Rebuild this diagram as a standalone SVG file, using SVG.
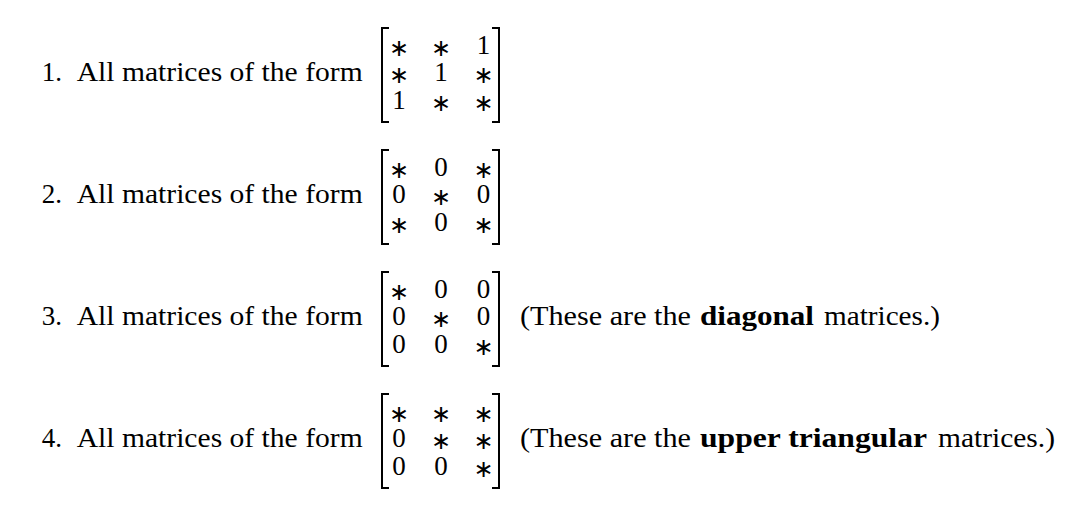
<svg xmlns="http://www.w3.org/2000/svg" width="1092" height="510" viewBox="0 0 1092 510">
<style>
.t{font-family:"Liberation Serif","Times New Roman",serif;font-size:27px;fill:#000}
.b{font-weight:bold}
.d{font-family:"Liberation Serif","Times New Roman",serif;font-size:27px;fill:#000;text-anchor:middle}
.s{font-family:"DejaVu Sans",sans-serif;font-size:24px;fill:#000;text-anchor:middle}
.br{fill:none;stroke:#000;stroke-width:2}
</style>
<rect width="1092" height="510" fill="#fff"/>
<g id="item1">
<text class="t" x="41.7" y="81">1.</text>
<text class="t" x="76.7" y="81" textLength="286" lengthAdjust="spacingAndGlyphs">All matrices of the form</text>
<g id="matrix1">
<path class="br" d="M389,28H382V122H389M492,28H499V122H492"/>
<text class="s" x="399" y="55.5">∗</text><text class="s" x="441" y="55.5">∗</text><text class="d" x="483.5" y="53.5">1</text>
<text class="s" x="399" y="83">∗</text><text class="d" x="441" y="81">1</text><text class="s" x="483.5" y="83">∗</text>
<text class="d" x="399" y="108.5">1</text><text class="s" x="441" y="110.5">∗</text><text class="s" x="483.5" y="110.5">∗</text>
</g>
</g>
<g id="item2">
<text class="t" x="41.7" y="203">2.</text>
<text class="t" x="76.7" y="203" textLength="286" lengthAdjust="spacingAndGlyphs">All matrices of the form</text>
<g id="matrix2">
<path class="br" d="M389,150H382V244H389M492,150H499V244H492"/>
<text class="s" x="399" y="177.5">∗</text><text class="d" x="441" y="175.5">0</text><text class="s" x="483.5" y="177.5">∗</text>
<text class="d" x="399" y="203">0</text><text class="s" x="441" y="205">∗</text><text class="d" x="483.5" y="203">0</text>
<text class="s" x="399" y="232.5">∗</text><text class="d" x="441" y="230.5">0</text><text class="s" x="483.5" y="232.5">∗</text>
</g>
</g>
<g id="item3">
<text class="t" x="41.7" y="325">3.</text>
<text class="t" x="76.7" y="325" textLength="286" lengthAdjust="spacingAndGlyphs">All matrices of the form</text>
<g id="matrix3">
<path class="br" d="M389,272H382V366H389M492,272H499V366H492"/>
<text class="s" x="399" y="299.5">∗</text><text class="d" x="441" y="297.5">0</text><text class="d" x="483.5" y="297.5">0</text>
<text class="d" x="399" y="325">0</text><text class="s" x="441" y="327">∗</text><text class="d" x="483.5" y="325">0</text>
<text class="d" x="399" y="352.5">0</text><text class="d" x="441" y="352.5">0</text><text class="s" x="483.5" y="354.5">∗</text>
</g>
<text class="t" x="520" y="325" textLength="171" lengthAdjust="spacingAndGlyphs">(These are the</text>
<text class="t b" x="700" y="325" textLength="114" lengthAdjust="spacingAndGlyphs">diagonal</text>
<text class="t" x="824" y="325" textLength="116" lengthAdjust="spacingAndGlyphs">matrices.)</text>
</g>
<g id="item4">
<text class="t" x="41.7" y="447">4.</text>
<text class="t" x="76.7" y="447" textLength="286" lengthAdjust="spacingAndGlyphs">All matrices of the form</text>
<g id="matrix4">
<path class="br" d="M389,394H382V488H389M492,394H499V488H492"/>
<text class="s" x="399" y="421.5">∗</text><text class="s" x="441" y="421.5">∗</text><text class="s" x="483.5" y="421.5">∗</text>
<text class="d" x="399" y="447">0</text><text class="s" x="441" y="449">∗</text><text class="s" x="483.5" y="449">∗</text>
<text class="d" x="399" y="474.5">0</text><text class="d" x="441" y="474.5">0</text><text class="s" x="483.5" y="476.5">∗</text>
</g>
<text class="t" x="520" y="447" textLength="171" lengthAdjust="spacingAndGlyphs">(These are the</text>
<text class="t b" x="700" y="447" textLength="227" lengthAdjust="spacingAndGlyphs">upper triangular</text>
<text class="t" x="938" y="447" textLength="117" lengthAdjust="spacingAndGlyphs">matrices.)</text>
</g>
</svg>
